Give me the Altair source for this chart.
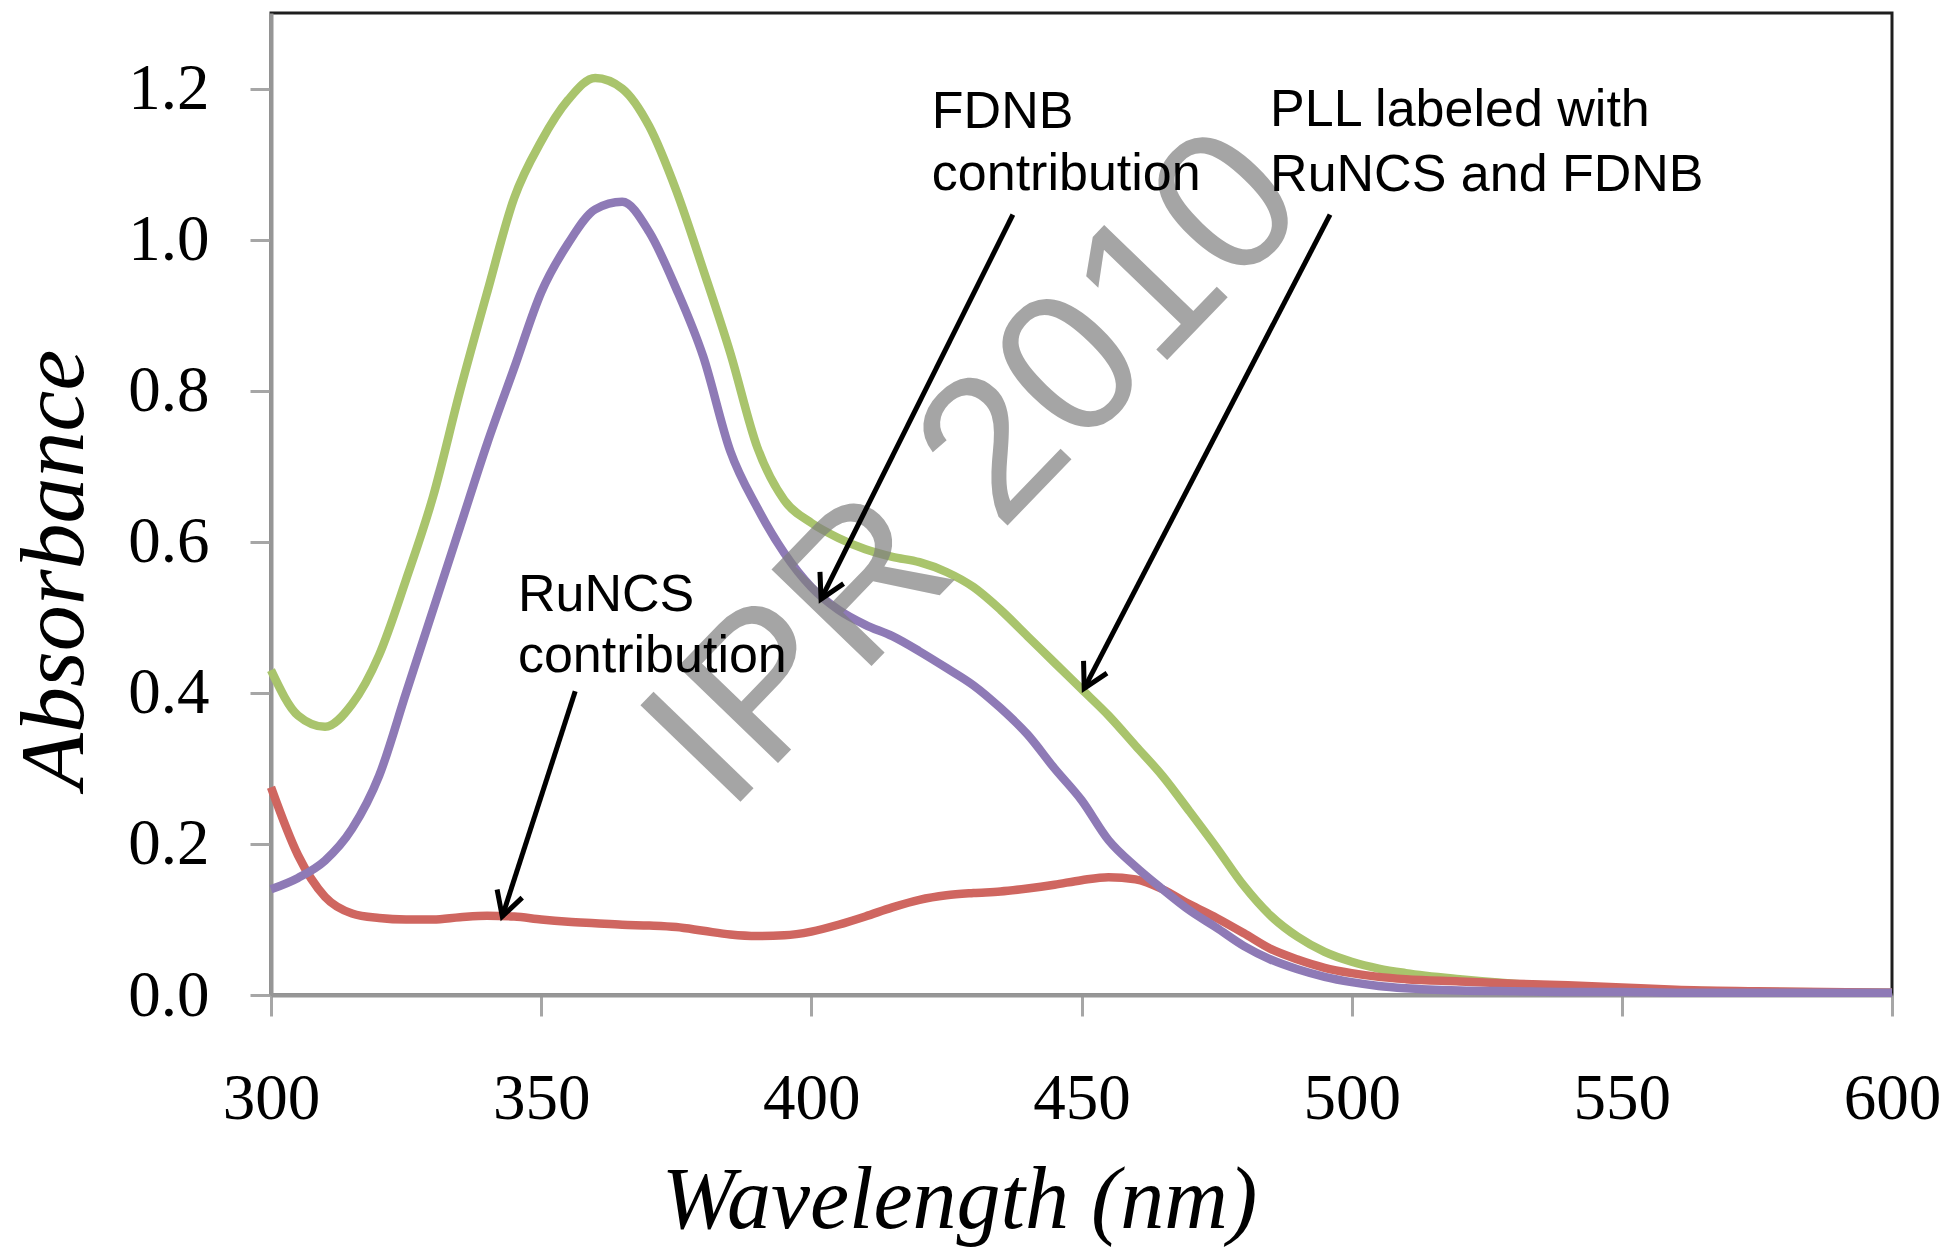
import math
import altair as alt
import pandas as pd

# ---------------- data ----------------
wavelength = [300, 305, 310, 315, 320, 325, 330, 335, 340, 345, 350, 355, 360, 365, 370,
              375, 380, 385, 390, 395, 400, 405, 410, 415, 420, 425, 430, 435, 440, 445,
              450, 455, 460, 465, 470, 475, 480, 485, 490, 495, 500, 505, 510, 520, 530,
              540, 550, 560, 575, 600]

pll_labeled = [0.43, 0.37, 0.355, 0.385, 0.45, 0.55, 0.66, 0.80, 0.93, 1.055, 1.13, 1.185, 1.214, 1.20, 1.15,
               1.065, 0.96, 0.85, 0.725, 0.655, 0.625, 0.605, 0.59, 0.58, 0.573, 0.56, 0.54, 0.51, 0.475, 0.44,
               0.405, 0.37, 0.33, 0.29, 0.243, 0.195, 0.145, 0.105, 0.077, 0.057, 0.044, 0.035, 0.029, 0.021, 0.015,
               0.011, 0.008, 0.006, 0.004, 0.003]

fdnb_contrib = [0.14, 0.155, 0.178, 0.22, 0.29, 0.40, 0.51, 0.62, 0.73, 0.83, 0.93, 0.995, 1.04, 1.05, 1.01,
                0.935, 0.845, 0.72, 0.645, 0.585, 0.54, 0.51, 0.49, 0.475, 0.455, 0.433, 0.41, 0.38, 0.345, 0.30,
                0.258, 0.205, 0.17, 0.14, 0.112, 0.089, 0.065, 0.047, 0.034, 0.024, 0.017, 0.012, 0.009, 0.006, 0.005,
                0.004, 0.004, 0.003, 0.003, 0.003]

runcs_contrib = [0.275, 0.185, 0.13, 0.108, 0.102, 0.10, 0.10, 0.103, 0.105, 0.104, 0.10, 0.097, 0.095, 0.093, 0.092,
                 0.09, 0.085, 0.08, 0.078, 0.079, 0.084, 0.093, 0.104, 0.116, 0.126, 0.132, 0.135, 0.137, 0.141, 0.146,
                 0.152, 0.156, 0.153, 0.14, 0.12, 0.102, 0.082, 0.061, 0.047, 0.036, 0.029, 0.024, 0.021, 0.018, 0.015,
                 0.013, 0.010, 0.007, 0.005, 0.003]

# drawing order: green first, then red, purple on top
series_names = ["PLL labeled with RuNCS and FDNB", "RuNCS contribution", "FDNB contribution"]
series_values = [pll_labeled, runcs_contrib, fdnb_contrib]
series_colors = ["#A9C46C", "#CF6660", "#8E7AB6"]

x_ticks = [300, 350, 400, 450, 500, 550, 600]
y_ticks = [0.0, 0.2, 0.4, 0.6, 0.8, 1.0, 1.2]

note_lines = ["FDNB", "contribution", "PLL labeled with", "RuNCS and FDNB", "RuNCS", "contribution"]
note_x = [422.3, 422.3, 484.9, 484.9, 345.7, 345.7]
note_y = [1.148, 1.066, 1.150, 1.065, 0.508, 0.427]

arrow_x1 = [437.3, 496.0, 356.3]
arrow_y1 = [1.033, 1.033, 0.402]
arrow_x2 = [401.8, 450.5, 342.8]
arrow_y2 = [0.524, 0.406, 0.104]

watermark_text = ["IPR 2010"]
watermark_x = [430.5]
watermark_y = [0.695]

# ---------------- layout ----------------
W, H = 1621, 982
X_DOM = [300, 600]
Y_DOM = [0, 1.3]
PAD = {"left": 271, "top": 13, "right": 1948 - 271 - W, "bottom": 1257 - 13 - H}

xs = alt.Scale(domain=X_DOM, nice=False, zero=False)
ys = alt.Scale(domain=Y_DOM, nice=False, zero=False)

x_axis = alt.Axis(values=x_ticks, format="d", labelPadding=51, labelFlush=False,
                  labelOverlap=False, title="Wavelength (nm)", titleX=688, titleY=232,
                  titleAlign="center", titleBaseline="alphabetic", titleFontSize=88)
y_axis = alt.Axis(values=y_ticks, format=".1f", labelPadding=41, labelFlush=False,
                  labelOverlap=False, title="Absorbance", titleAngle=270, titleX=-189,
                  titleY=556, titleAlign="center", titleBaseline="alphabetic", titleFontSize=92)


def X(field):
    return alt.X(field, type="quantitative", scale=xs, axis=x_axis)


def Y(field):
    return alt.Y(field, type="quantitative", scale=ys, axis=y_axis)


layers = []
for name, vals, col in zip(series_names, series_values, series_colors):
    df = pd.DataFrame({"wl": wavelength, "v": vals, "series": name})
    layers.append(
        alt.Chart(df).mark_line(strokeWidth=8.5, color=col, interpolate="monotone").encode(
            x=X("wl"), y=Y("v"), detail="series:N",
        )
    )

wm_df = pd.DataFrame({"wl": watermark_x, "v": watermark_y, "t": watermark_text})
layers.append(
    alt.Chart(wm_df).mark_text(angle=314, fontSize=202, font="Liberation Sans", color="#7f7f7f",
                               opacity=0.7, align="center", baseline="middle").encode(
        x=X("wl"), y=Y("v"), text="t:N",
    )
)

px_per_x = W / (X_DOM[1] - X_DOM[0])
px_per_y = H / (Y_DOM[1] - Y_DOM[0])
angles = []
for a, b, c, d in zip(arrow_x1, arrow_y1, arrow_x2, arrow_y2):
    dx = (c - a) * px_per_x
    dy = -(d - b) * px_per_y
    angles.append(math.degrees(math.atan2(dy, dx)) % 360)

arr_df = pd.DataFrame({"wl": arrow_x1, "v": arrow_y1, "wl2": arrow_x2, "v2": arrow_y2})
layers.append(
    alt.Chart(arr_df).mark_rule(strokeWidth=5, color="black").encode(
        x=X("wl"), y=Y("v"), x2="wl2:Q", y2="v2:Q",
    )
)
head_df = pd.DataFrame({"wl": arrow_x2, "v": arrow_y2, "ang": angles})
layers.append(
    alt.Chart(head_df).mark_point(shape="M -1 -0.55 L 0 0 L -1 0.55", filled=False, size=2304,
                                  strokeWidth=5, color="black", opacity=1).encode(
        x=X("wl"), y=Y("v"), angle=alt.Angle("ang:Q", scale=None),
    )
)

note_df = pd.DataFrame({"wl": note_x, "v": note_y, "t": note_lines})
layers.append(
    alt.Chart(note_df).mark_text(align="left", baseline="alphabetic", font="Liberation Sans",
                                 fontSize=52, color="black").encode(
        x=X("wl"), y=Y("v"), text="t:N",
    )
)

chart = alt.layer(*layers).properties(
    width=W, height=H, padding=PAD,
    autosize=alt.AutoSizeParams(type="none"),
    background="white",
).configure_view(
    stroke="#1e1e1e", strokeWidth=3
).configure_axis(
    grid=False, domainColor="#969696", domainWidth=4, tickColor="#a6a6a6", tickWidth=3,
    tickSize=21, labelFont="Liberation Serif", labelFontSize=65, labelColor="black",
    titleFont="Liberation Serif", titleFontStyle="italic", titleFontWeight="normal",
    titleColor="black",
)

chart.save("out.html", embed_options={"renderer": "svg", "actions": False})
